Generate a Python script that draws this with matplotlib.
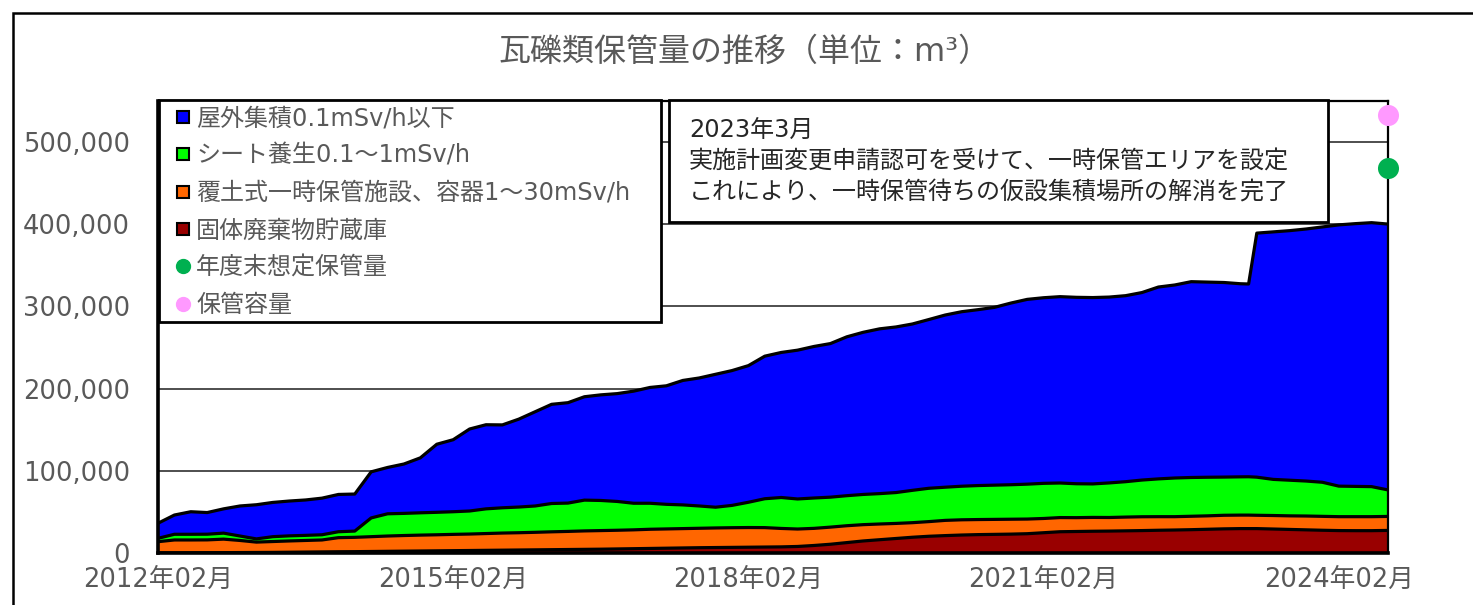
import numpy as np
import matplotlib
matplotlib.use("Agg")
import matplotlib.pyplot as plt
from matplotlib.lines import Line2D
from matplotlib.patches import Rectangle
from matplotlib.ticker import FuncFormatter

plt.rcParams['font.family'] = ['DejaVu Sans', 'Noto Sans CJK JP']

# ---------------- data (m3) ----------------
months = [
    "2012-02", "2012-04", "2012-06", "2012-08", "2012-10", "2012-12",
    "2013-02", "2013-04", "2013-06", "2013-08", "2013-10", "2013-12",
    "2014-02", "2014-04", "2014-06", "2014-08", "2014-10", "2014-12",
    "2015-02", "2015-04", "2015-06", "2015-08", "2015-10", "2015-12",
    "2016-02", "2016-04", "2016-06", "2016-08", "2016-10", "2016-12",
    "2017-02", "2017-04", "2017-06", "2017-08", "2017-10", "2017-12",
    "2018-02", "2018-04", "2018-06", "2018-08", "2018-10", "2018-12",
    "2019-02", "2019-04", "2019-06", "2019-08", "2019-10", "2019-12",
    "2020-02", "2020-04", "2020-06", "2020-08", "2020-10", "2020-12",
    "2021-02", "2021-04", "2021-06", "2021-08", "2021-10", "2021-12",
    "2022-02", "2022-04", "2022-06", "2022-08", "2022-10", "2022-12",
    "2023-02", "2023-03", "2023-04", "2023-06", "2023-08", "2023-10", "2023-12",
    "2024-02", "2024-04", "2024-06", "2024-08",
]

outdoor_01 = [  # 屋外集積0.1mSv/h以下
    18300, 23400, 27400, 26300, 29500, 36500, 41500, 41600, 42300, 43000,
    44500, 45300, 45000, 56000, 56300, 60000, 66800, 82700, 87500, 99600,
    102200, 100700, 106800, 114500, 120500, 122000, 125600, 128300, 131000, 136200,
    140700, 144000, 151200, 155500, 161500, 163800, 166000, 173200, 176200, 180800,
    184100, 186600, 193000, 197000, 200200, 201200, 202100, 205000, 209200, 212000,
    213700, 216000, 220700, 224500, 225500, 226400, 226500, 226400, 225800, 226000,
    227800, 233100, 234500, 237900, 237100, 236400, 234600, 234200, 296500, 300700,
    303200, 306200, 310200, 317400, 319200, 320700, 323000,
]
sheet_01_1 = [  # シート養生0.1～1mSv/h
    4100, 6900, 6900, 6900, 7300, 5400, 3900, 5900, 6200, 6200,
    6300, 7200, 7600, 22800, 27000, 26900, 27100, 27300, 27500, 28000,
    30000, 30700, 31200, 32000, 34400, 34400, 37400, 36600, 35000, 32300,
    31600, 29900, 28800, 27100, 25200, 27100, 30700, 35100, 37600, 36500,
    36900, 36400, 36500, 36700, 36900, 37500, 39300, 40500, 40300, 40800,
    41300, 41600, 41900, 42400, 42700, 42000, 41200, 40700, 42000, 43000,
    44600, 45900, 47000, 47100, 46900, 46400, 46500, 46600, 46300, 43900,
    43300, 42500, 41400, 37100, 36800, 36500, 32200,
]
covered_1_30 = [  # 覆土式一時保管施設、容器1～30mSv/h
    13600, 15700, 15600, 15600, 16400, 14700, 12600, 13200, 13700, 14100,
    14500, 17100, 17400, 18000, 18600, 19000, 19300, 19500, 19800, 20000,
    20400, 20800, 21000, 21300, 21700, 22000, 22400, 22600, 22700, 22900,
    23300, 23400, 23500, 23600, 23800, 23900, 23900, 23600, 22400, 21200,
    20800, 20800, 20500, 19800, 19100, 18300, 17700, 17800, 18500, 18500,
    18300, 18200, 18100, 17800, 17300, 17200, 16800, 16800, 16500, 16700,
    16800, 16500, 16200, 16300, 16300, 16500, 16400, 16400, 16200, 16400,
    16500, 16800, 16900, 16900, 17000, 17000, 17000,
]
solid_storage = [  # 固体廃棄物貯蔵庫
    500, 500, 600, 700, 800, 900, 1000, 1100, 1300, 1500,
    1700, 1900, 2000, 2200, 2400, 2600, 2800, 3000, 3200, 3400,
    3600, 3800, 4000, 4200, 4400, 4600, 4800, 5000, 5300, 5600,
    5900, 6200, 6500, 6800, 7000, 7200, 7400, 7600, 7800, 8300,
    9500, 11000, 13000, 15000, 16500, 18000, 19500, 20700, 21500, 22200,
    22700, 23000, 23300, 23800, 25000, 26200, 26500, 26800, 27000, 27300,
    27600, 28000, 28300, 28700, 29200, 29700, 30000, 30000, 30000, 29500,
    29000, 28500, 28000, 27600, 27500, 27500, 27800,
]
projected_end_of_year = 468000   # 年度末想定保管量
storage_capacity = 533000        # 保管容量

series_labels = ["屋外集積0.1mSv/h以下", "シート養生0.1～1mSv/h",
                 "覆土式一時保管施設、容器1～30mSv/h", "固体廃棄物貯蔵庫",
                 "年度末想定保管量", "保管容量"]
tick_months = ["2012-02", "2015-02", "2018-02", "2021-02", "2024-02"]
tick_labels = ["2012年02月", "2015年02月", "2018年02月", "2021年02月", "2024年02月"]
title = "瓦礫類保管量の推移（単位：m³）"
note_lines = ["2023年3月",
              "実施計画変更申請認可を受けて、一時保管エリアを設定",
              "これにより、一時保管待ちの仮設集積場所の解消を完了"]

c_blue, c_green, c_orange, c_red = "#0000FF", "#00FF00", "#FF6600", "#990000"
c_proj, c_cap = "#00B050", "#FF99FF"
grey_txt = "#595959"

# ---------------- layout ----------------
W, H = 1473, 605
fig = plt.figure(figsize=(W / 100, H / 100), dpi=100)
fx = lambda px: px / W
fy = lambda py: 1 - py / H

ax = fig.add_axes([fx(158), fy(553.3), fx(1388) - fx(158), fy(100.6) - fy(553.3)])

def mi(s):
    return (int(s[:4]) - 2012) * 12 + int(s[5:7]) - 2

x = np.array([mi(s) for s in months])
layers = [solid_storage, covered_1_30, sheet_01_1, outdoor_01]
ax.stackplot(x, *layers, colors=[c_red, c_orange, c_green, c_blue],
             linewidth=0, zorder=2)
cum = np.cumsum(np.array(layers, dtype=float), axis=0)
for c in cum:
    ax.plot(x, c, color="black", lw=2.3, zorder=3, solid_joinstyle="round")

ax.scatter([x[-1]], [projected_end_of_year], s=230, color=c_proj, zorder=6,
           clip_on=False, linewidths=0)
ax.scatter([x[-1]], [storage_capacity], s=230, color=c_cap, zorder=6,
           clip_on=False, linewidths=0)

ax.set_xlim(x[0], x[-1])
ax.set_ylim(0, 550000)
ax.set_yticks(np.arange(0, 500001, 100000))
ax.yaxis.set_major_formatter(FuncFormatter(lambda v, p: f"{v:,.0f}"))
ax.set_xticks([mi(s) for s in tick_months])
ax.set_xticklabels(tick_labels)
ax.yaxis.grid(True, color="#404040", lw=1.3)
ax.set_axisbelow(True)
ax.tick_params(axis="x", direction="in", length=6, width=1.5, pad=10,
               labelsize=18.5, labelcolor=grey_txt, color="black")
ax.tick_params(axis="y", length=0, pad=20, labelsize=18.5, labelcolor=grey_txt)
for side in ["left", "bottom"]:
    ax.spines[side].set_linewidth(2.6)
for side in ["top", "right"]:
    ax.spines[side].set_linewidth(1.6)
for sp in ax.spines.values():
    sp.set_color("black")
    sp.set_zorder(4)

# outer frame
fig.add_artist(Rectangle((fx(13), -0.2), 2, fy(12.7) + 0.2, transform=fig.transFigure,
                         fill=False, edgecolor="black", lw=1.8, clip_on=False))

# title
fig.text(fx(745), fy(52), title, ha="center", va="center", fontsize=23, color=grey_txt)

# legend box
fig.add_artist(Rectangle((fx(158.5), fy(322)), fx(661) - fx(158.5), fy(100.5) - fy(322),
                         transform=fig.transFigure, facecolor="white",
                         edgecolor="black", lw=2, zorder=8))
handles = [
    Line2D([], [], marker="s", ls="none", markerfacecolor=c_blue, markeredgecolor="black", markersize=8, mew=1.5),
    Line2D([], [], marker="s", ls="none", markerfacecolor=c_green, markeredgecolor="black", markersize=8, mew=1.5),
    Line2D([], [], marker="s", ls="none", markerfacecolor=c_orange, markeredgecolor="black", markersize=8, mew=1.5),
    Line2D([], [], marker="s", ls="none", markerfacecolor=c_red, markeredgecolor="black", markersize=8, mew=1.5),
    Line2D([], [], marker="o", ls="none", markerfacecolor=c_proj, markeredgecolor=c_proj, markersize=10),
    Line2D([], [], marker="o", ls="none", markerfacecolor=c_cap, markeredgecolor=c_cap, markersize=10),
]
leg = fig.legend(handles, series_labels, loc="upper left",
                 bbox_to_anchor=(fx(177), fy(106)), frameon=False,
                 fontsize=17.3, labelcolor=grey_txt, handlelength=0.5,
                 handletextpad=0.3, labelspacing=0.56, borderaxespad=0, borderpad=0)
leg.set_zorder(9)

# annotation box
fig.add_artist(Rectangle((fx(669), fy(222)), fx(1328) - fx(669), fy(100.5) - fy(222),
                         transform=fig.transFigure, facecolor="white",
                         edgecolor="black", lw=2, zorder=8))
for yy, line in zip([130, 162, 193], note_lines):
    fig.text(fx(689), fy(yy), line, ha="left", va="center", fontsize=17.3,
             color="#262626", zorder=9)

fig.savefig("out.png", dpi=100)
